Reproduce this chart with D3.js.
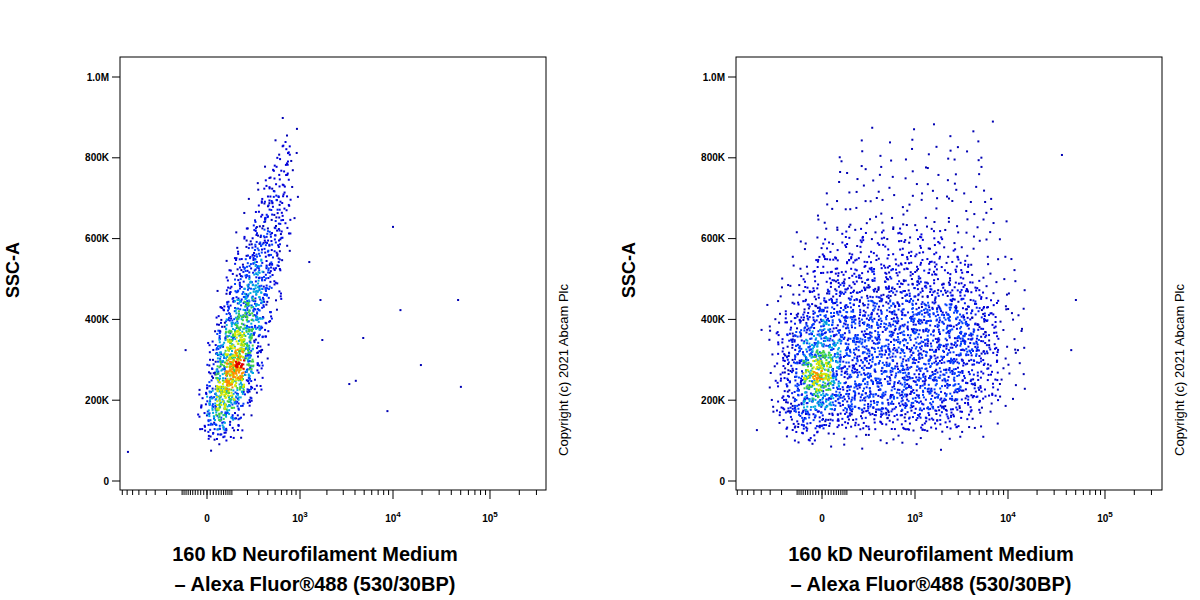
<!DOCTYPE html>
<html><head><meta charset="utf-8">
<script src="https://cdn.jsdelivr.net/npm/d3@7"></script>
<style>body{margin:0;background:#fff}svg{font-family:Arial,"Liberation Sans",sans-serif}</style>
</head><body><svg id="c" width="1200" height="600"></svg>
<script>
'use strict';

// density grid rows: [row (25K steps), first column (0.1 display units from -0.9), levels]
const leftRows = [
  [35,17,"1"],[34,17,"11"],[33,16,"12"],[32,16,"121"],[31,15,"1221"],[30,15,"1221"],
  [29,14,"12221"],[28,14,"12321"],[27,13,"12332"],[26,13,"123321"],[25,13,"13332"],
  [24,12,"123432"],[23,12,"134431"],[22,12,"234431"],[21,11,"1345431"],[20,11,"234542"],
  [19,11,"245542"],[18,10,"1345542"],[17,10,"2456531"],[16,10,"2466531"],[15,10,"356652"],
  [14,9,"1467642"],[13,9,"2577631"],[12,9,"2578631"],[11,9,"368963"],[10,9,"368852"],
  [9,8,"1478742"],[8,8,"2577531"],[7,8,"257642"],[6,8,"256531"],[5,8,"24532"],
  [4,8,"13321"],[3,9,"11"]
];
const rightRows = [
  [35,21,"1000001"],[34,14,"100010001001"],[33,13,"1001010010101"],[32,10,"10010100101010101"],
  [31,11,"1010110101011011"],[30,10,"1101011010110101"],[29,10,"1011101101101101"],
  [28,9,"101101110111011101"],[27,9,"1101111011101110111"],[26,8,"10111011111011101111"],
  [25,8,"111111111111111111111"],[24,6,"1011121212121212111101"],[23,6,"11121212121212121111101"],
  [22,5,"101122121212222121211101"],[21,5,"1112222222222222212211101"],
  [20,4,"10112222323232232222211101"],[19,4,"11122233233333333232221111"],
  [18,4,"111223333333333333333221111"],[17,3,"1112333434343434343433322111"],
  [16,3,"1123344444444444444443332111"],[15,3,"1123445444444444444444332111"],
  [14,3,"1234455444444444444444432111"],[13,3,"1234555544444444444444432111"],
  [12,3,"1234566544444444444444432111"],[11,3,"1234677544444444444443332111"],
  [10,3,"1234787544444444444443322111"],[9,3,"1234676544444444444443322111"],
  [8,3,"123456554444444444444332211"],[7,3,"12345554444444444433322111"],
  [6,3,"1234443333333333333322111"],[5,4,"123333222222222222221111"],
  [4,5,"1222111111111111111101"],[3,6,"1101010101010101"]
];
// single events [display units, SSC in K]
const leftOutliers = [[-0.85,72],[-0.23,324],[1.24,349],[1.53,240],[1.6,248],[1.68,354],[2.0,629],
  [2.08,423],[1.94,173],[2.3,287],[2.7,448],[2.73,233],[1.1,542],[1.22,448]];
const rightOutliers = [[-0.34,483],[-0.65,374],[2.58,807],[2.73,448],[2.68,324],[-0.7,126]];

const yTicks = [0, 200000, 400000, 600000, 800000, 1000000];
const yTickLabels = ["0", "200K", "400K", "600K", "800K", "1.0M"];
const xMajor = [0, 1000, 10000, 100000];
const xLabelLines = ["160 kD Neurofilament Medium", "– Alexa Fluor®488 (530/30BP)"];

const colors = ["#fff","#0000b4","#0000d8","#0018ee","#0040ff","#00a8e0","#40d040","#d8e800","#ff8c00","#e00000"];

// biexponential-like display transform
const disp = v => Math.sign(v) * Math.log10(1 + Math.abs(v) / 125) / Math.log10(9);
// deterministic jitter inside a cell
const hash = n => { const s = Math.sin(n * 12.9898) * 43758.5453; return s - Math.floor(s); };

const svg = d3.select("#c");

function panel(x0, zeroX, rows, outliers) {
  const x = d3.scaleLinear().domain([0, 1]).range([zeroX, zeroX + 93]);
  const y = d3.scaleLinear().domain([0, 1000000]).range([481, 77]);
  const g = svg.append("g");
  const frame = {l: x0, r: x0 + 426, t: 57, b: 490};

  // events
  const dots = [];
  rows.forEach(([j, c0, s]) => {
    for (let k = 0; k < s.length; k++) {
      const lv = +s[k];
      if (!lv) continue;
      const col = c0 + k, n = Math.round(lv * lv * 0.4) + lv;
      for (let m = 0; m < n; m++) {
        const key = x0 * 7 + col * 131 + j * 977 + m * 3.1;
        const fx = hash(key), fy = hash(key + 0.5), fc = hash(key + 0.25);
        const c = lv <= 2 ? lv : (fc < 0.3 ? lv - 2 : fc < 0.55 ? lv - 1 : lv);
        dots.push({d: -0.9 + (col + fx) * 0.1, v: (j + fy) * 25000, lv: Math.max(1, c)});
      }
    }
  });
  outliers.forEach(([d, k]) => dots.push({d: d, v: k * 1000, lv: 1}));
  dots.sort((a, b) => a.lv - b.lv);
  g.selectAll("rect.ev").data(dots).join("rect").attr("class", "ev")
    .attr("x", d => x(d.d) - 1).attr("y", d => y(d.v) - 1)
    .attr("width", 2).attr("height", 2).attr("fill", d => colors[d.lv]);

  g.append("rect").attr("x", frame.l).attr("y", frame.t).attr("width", frame.r - frame.l)
    .attr("height", frame.b - frame.t).attr("fill", "none").attr("stroke", "#000");

  // y axis
  yTicks.forEach((t, i) => {
    g.append("line").attr("x1", frame.l - 8).attr("x2", frame.l).attr("y1", y(t)).attr("y2", y(t)).attr("stroke", "#000");
    g.append("text").attr("x", frame.l - 11).attr("y", y(t) + 3.5).attr("text-anchor", "end")
      .attr("font-size", 10).attr("font-weight", "bold").text(yTickLabels[i]);
  });

  // x minor ticks
  const minor = [];
  for (let v = -1000; v <= -200; v += 100) minor.push(v);
  for (let v = -100; v <= 100; v += 10) minor.push(v);
  for (let v = 200; v < 1000; v += 100) minor.push(v);
  for (let v = 2000; v < 10000; v += 1000) minor.push(v);
  for (let v = 20000; v < 100000; v += 10000) minor.push(v);
  for (let v = 200000; v <= 400000; v += 100000) minor.push(v);
  minor.forEach(v => {
    const px = x(disp(v));
    if (px < frame.l || px > frame.r) return;
    g.append("line").attr("x1", px).attr("x2", px).attr("y1", frame.b).attr("y2", frame.b + 5).attr("stroke", "#000");
  });
  xMajor.forEach(v => {
    const px = x(disp(v));
    g.append("line").attr("x1", px).attr("x2", px).attr("y1", frame.b).attr("y2", frame.b + 9).attr("stroke", "#000");
    const t = g.append("text").attr("x", px).attr("y", 522).attr("text-anchor", "middle")
      .attr("font-size", 10).attr("font-weight", "bold");
    if (v === 0) t.text("0");
    else { t.append("tspan").text("10");
      t.append("tspan").attr("dy", -5).attr("font-size", 8).text(String(Math.log10(v))); }
  });

  // titles
  g.append("text").attr("transform", `translate(${x0 - 101},270) rotate(-90)`).attr("text-anchor", "middle")
    .attr("font-size", 18).attr("font-weight", "bold").text("SSC-A");
  xLabelLines.forEach((s, i) => g.append("text").attr("x", x0 + 195).attr("y", 561 + i * 30)
    .attr("text-anchor", "middle").attr("font-size", 20).attr("font-weight", "bold").text(s));
  g.append("text").attr("transform", `translate(${frame.r + 22},370) rotate(-90)`).attr("text-anchor", "middle")
    .attr("font-size", 13).text("Copyright (c) 2021 Abcam Plc");
}

panel(120, 207, leftRows, leftOutliers);
panel(736, 822, rightRows, rightOutliers);
</script></body></html>
